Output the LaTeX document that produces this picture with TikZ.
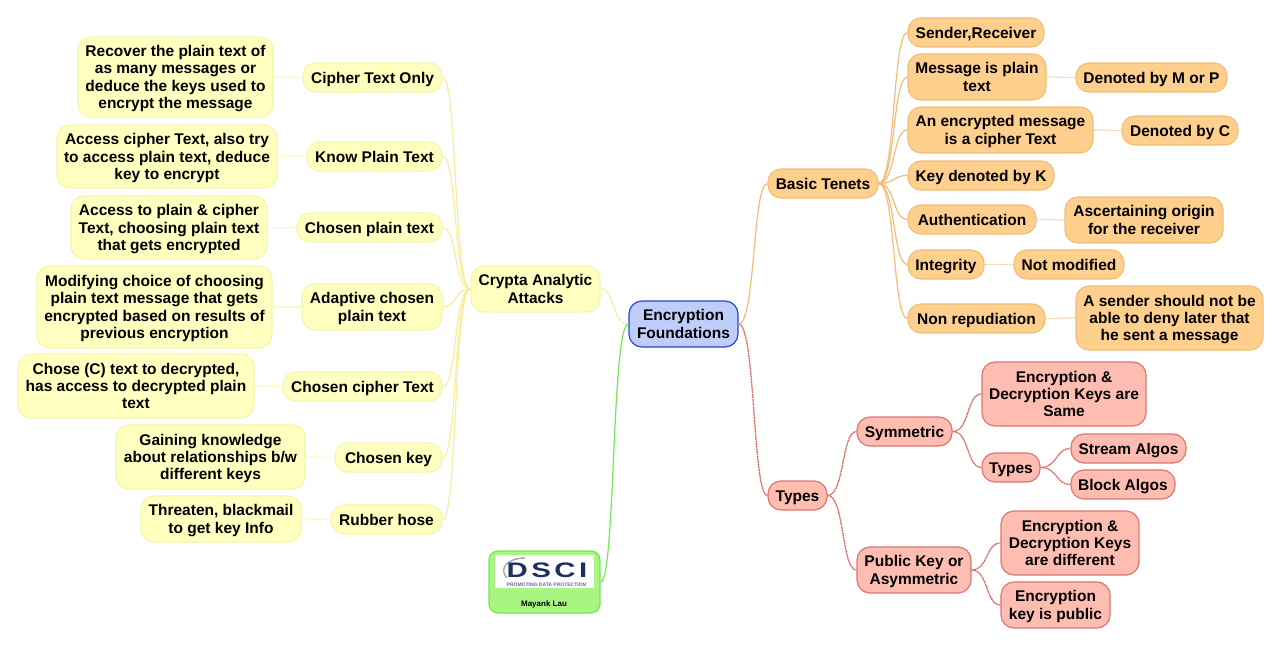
\documentclass[tikz,border=0pt]{standalone}
\usepackage{fontspec}
\setmainfont{Liberation Sans}
\definecolor{rootf}{HTML}{BFCDFB}\definecolor{rootd}{HTML}{2448CC}
\definecolor{yelf}{HTML}{FFFFC0}\definecolor{yeld}{HTML}{F6F6A8}
\definecolor{orgf}{HTML}{FFCF8E}\definecolor{orgd}{HTML}{EFBE78}
\definecolor{redf}{HTML}{FFBDB2}\definecolor{redd}{HTML}{DC7672}
\definecolor{grnf}{HTML}{A8F582}\definecolor{grnd}{HTML}{74E65A}
\definecolor{navy}{HTML}{1F2F5E}
\newcommand{\topstrut}{\vrule width 0pt height 14.5pt depth 0pt\relax}
\newcommand{\botstrut}{\vrule width 0pt height 0pt depth 3.5pt\relax}
\tikzset{
 box/.style={rounded corners=13pt,line width=1.2pt,inner sep=0pt,align=center,text=black,
   font=\fontsize{15.5}{17.4}\selectfont\bfseries},
 rootbox/.style={box,draw=rootd,fill=rootf},
 yelbox/.style={box,draw=yeld,fill=yelf},
 orgbox/.style={box,draw=orgd,fill=orgf},
 redbox/.style={box,draw=redd,fill=redf},
 grnbox/.style={box,draw=grnd,fill=grnf,rounded corners=9pt},
 link/.style={line width=1.2pt},
 ylink/.style={link,draw=yeld!92!orange},
 olink/.style={link,draw=orgd},
 rlink/.style={link,draw=redd!90!red,dash pattern=on 2pt off 0.6pt,line width=1.3pt},
 glink/.style={link,draw=grnd},
 ylinkp/.style={link,draw=yeld!70},
 olinkp/.style={link,draw=orgd!75,dash pattern=on 2pt off 1pt},
}
\newcommand{\bx}[7]{\node[#1,minimum width={(#4-#2)*1pt},minimum height={(#5-#3)*1pt}] (#6) at ({(#2+#4)/2},{(#3+#5)/2}) {\topstrut #7\botstrut}}
\newcommand{\cR}[3][olink]{\draw[#1] (#2.east) .. controls +(17,0) and +(-15,0) .. (#3.west);}
\newcommand{\cL}[3][ylink]{\draw[#1] (#2.west) .. controls +(-17,0) and +(15,0) .. (#3.east);}
\begin{document}
\begin{tikzpicture}[x=1pt,y=-1pt]
\useasboundingbox (0,0) rectangle (1280,645);
\fill[white] (0,0) rectangle (1280,645);
% nodes
\bx{rootbox}{629}{301}{738}{347}{root}{Encryption\\Foundations};
\bx{yelbox}{471}{266}{600}{312}{crypta}{Crypta Analytic\\Attacks};
\bx{yelbox}{303}{63}{442}{92}{cto}{Cipher Text Only};
\bx{yelbox}{307}{142}{442}{171}{kpt}{Know Plain Text};
\bx{yelbox}{297}{213}{442}{242}{cpt}{Chosen plain text};
\bx{yelbox}{302}{284}{442}{330}{acp}{Adaptive chosen\\plain text};
\bx{yelbox}{283}{372}{442}{401}{cct}{Chosen cipher Text};
\bx{yelbox}{335}{443}{442}{472}{ck}{Chosen key};
\bx{yelbox}{331}{505}{442}{534}{rh}{Rubber hose};
\bx{yelbox}{78}{37}{273}{117}{recover}{Recover the plain text of\\as many messages or\\deduce the keys used to\\encrypt the message};
\bx{yelbox}{57}{125}{277}{188}{access}{Access cipher Text, also try\\to access plain text, deduce\\key to encrypt};
\bx{yelbox}{71}{196}{267}{259}{accessb}{Access to plain \& cipher\\Text, choosing plain text\\that gets encrypted};
\bx{yelbox}{37}{266}{272}{348}{modify}{Modifying choice of choosing\\plain text message that gets\\encrypted based on results of\\previous encryption};
\bx{yelbox}{18}{354}{254}{418}{chose}{Chose (C) text to decrypted,\\has access to decrypted plain\\text};
\bx{yelbox}{116}{425}{305}{489}{gain}{Gaining knowledge\\about relationships b/w\\different keys};
\bx{yelbox}{141}{496}{301}{542}{threat}{Threaten, blackmail\\to get key Info};
\bx{orgbox}{768}{169}{878}{198}{basic}{Basic Tenets};
\bx{orgbox}{908}{18}{1044}{47}{sender}{Sender,Receiver};
\bx{orgbox}{908}{54}{1046}{100}{msg}{Message is plain\\text};
\bx{orgbox}{1076}{63}{1227}{92}{dmp}{Denoted by M or P};
\bx{orgbox}{908}{107}{1093}{153}{encm}{An encrypted message\\is a cipher Text};
\bx{orgbox}{1122}{116}{1238}{145}{dc}{Denoted by C};
\bx{orgbox}{908}{161}{1054}{190}{keyk}{Key denoted by K};
\bx{orgbox}{908}{205}{1036}{234}{auth}{Authentication};
\bx{orgbox}{1065}{197}{1223}{243}{asc}{Ascertaining origin\\for the receiver};
\bx{orgbox}{908}{250}{984}{279}{integ}{Integrity};
\bx{orgbox}{1014}{250}{1124}{279}{notm}{Not modified};
\bx{orgbox}{908}{304}{1045}{333}{nonr}{Non repudiation};
\bx{orgbox}{1076}{286}{1263}{350}{asend}{A sender should not be\\able to deny later that\\he sent a message};
\bx{redbox}{768}{481}{827}{510}{types}{Types};
\bx{redbox}{857}{417}{952}{446}{sym}{Symmetric};
\bx{redbox}{982}{362}{1146}{426}{same}{Encryption \&\\Decryption Keys are\\Same};
\bx{redbox}{982}{453}{1040}{482}{typesb}{Types};
\bx{redbox}{1071}{434}{1186}{463}{stream}{Stream Algos};
\bx{redbox}{1071}{470}{1175}{499}{block}{Block Algos};
\bx{redbox}{857}{547}{971}{593}{pub}{Public Key or\\Asymmetric};
\bx{redbox}{1001}{511}{1139}{575}{diff}{Encryption \&\\Decryption Keys\\are different};
\bx{redbox}{1001}{582}{1110}{628}{ekp}{Encryption\\key is public};
\bx{grnbox}{489}{551}{600}{613}{logo}{};
% logo
\fill[white] (495,555) rectangle (594,588);
\draw[line width=1.4pt,draw=gray!70] (507,578) .. controls (498,568) and (508,558) .. (525,558);
\node[font=\fontsize{21}{21}\selectfont\bfseries\addfontfeature{LetterSpace=12},text=navy,inner sep=0pt,xscale=1.4,transform shape] (dsci) at (547,570.5) {DSCI};
\node[font=\fontsize{5}{5}\selectfont\bfseries,text=navy!70,inner sep=0pt] (promo) at (546.5,584.5) {PROMOTING DATA PROTECTION};
\node[font=\fontsize{8}{9}\selectfont\bfseries,text=black,inner sep=0pt] (mayank) at (544,604) {Mayank Lau};
% connectors
\cR{root}{basic}
\cR[rlink]{root}{types}
\cL{root}{crypta}
\cL[glink]{root}{logo}
\foreach \c in {cto,kpt,cpt,acp,cct,ck,rh}{\cL{crypta}{\c}}
\cL[ylinkp]{cto}{recover}\cL[ylinkp]{kpt}{access}\cL[ylinkp]{cpt}{accessb}\cL[ylinkp]{acp}{modify}\cL[ylinkp]{cct}{chose}\cL[ylinkp]{ck}{gain}\cL[ylinkp]{rh}{threat}
\foreach \c in {sender,msg,encm,keyk,auth,integ,nonr}{\cR{basic}{\c}}
\cR[olinkp]{msg}{dmp}\cR[olinkp]{encm}{dc}\cR[olinkp]{auth}{asc}\cR[olinkp]{integ}{notm}\cR[olinkp]{nonr}{asend}
\cR[rlink]{types}{sym}\cR[rlink]{types}{pub}
\cR[rlink]{sym}{same}\cR[rlink]{sym}{typesb}
\cR[rlink]{typesb}{stream}\cR[rlink]{typesb}{block}
\cR[rlink]{pub}{diff}\cR[rlink]{pub}{ekp}
\end{tikzpicture}
\end{document}
